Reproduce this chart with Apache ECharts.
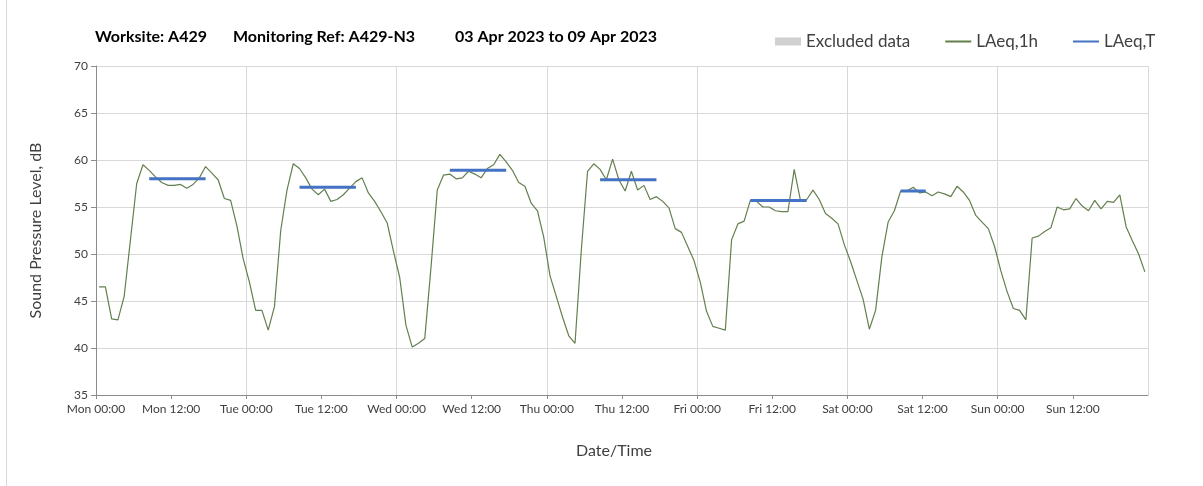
<!DOCTYPE html>
<html>
<head>
<meta charset="utf-8">
<title>A429-N3 noise monitoring</title>
<script src="https://cdn.jsdelivr.net/npm/echarts@6/dist/echarts.min.js"></script>
<style>
  html, body { margin: 0; padding: 0; background: #fff; }
  #chart { width: 1203px; height: 486px; }
</style>
</head>
<body>
<div id="chart"></div>
<script>
// LAeq,1h in dB, one value per hour, 00:00 .. 23:00
const mon = [46.5, 46.5, 43.1, 43.0, 45.5, 51.5, 57.5, 59.5, 58.9, 58.2, 57.6, 57.3,
             57.3, 57.4, 57.0, 57.4, 58.1, 59.3, 58.6, 57.9, 55.9, 55.7, 53.0, 49.5];
const tue = [47.0, 44.0, 44.0, 41.9, 44.4, 52.5, 56.8, 59.6, 59.1, 58.1, 56.9, 56.3,
             56.9, 55.6, 55.8, 56.3, 57.0, 57.7, 58.1, 56.5, 55.6, 54.5, 53.3, 50.3];
const wed = [47.5, 42.4, 40.1, 40.5, 41.0, 48.6, 56.8, 58.4, 58.5, 58.0, 58.1, 58.8,
             58.5, 58.1, 59.1, 59.5, 60.6, 59.8, 58.9, 57.6, 57.2, 55.4, 54.6, 51.8];
const thu = [47.7, 45.5, 43.3, 41.3, 40.5, 50.4, 58.8, 59.6, 59.0, 57.9, 60.1, 57.9,
             56.7, 58.8, 56.8, 57.3, 55.8, 56.1, 55.6, 54.9, 52.7, 52.3, 50.8, 49.3];
const fri = [47.0, 43.9, 42.3, 42.1, 41.9, 51.5, 53.2, 53.5, 55.7, 55.6, 55.0, 55.0,
             54.6, 54.5, 54.5, 59.0, 55.7, 55.8, 56.8, 55.8, 54.3, 53.8, 53.2, 51.0];
const sat = [49.2, 47.2, 45.2, 42.0, 44.0, 49.7, 53.4, 54.6, 56.7, 56.7, 57.1, 56.5,
             56.6, 56.2, 56.6, 56.4, 56.1, 57.2, 56.6, 55.7, 54.1, 53.4, 52.7, 50.8];
const sun = [48.2, 46.0, 44.2, 44.0, 43.0, 51.7, 51.9, 52.4, 52.8, 55.0, 54.7, 54.8,
             55.9, 55.1, 54.6, 55.7, 54.8, 55.6, 55.5, 56.3, 52.9, 51.4, 50.0, 48.1];

// LAeq,T for each assessed period (day index, start hour, end hour)
const ltDay   = [0, 1, 2, 3, 4, 5];
const ltStart = [8, 8, 8, 8, 8, 8];
const ltEnd   = [18, 18, 18, 18, 18, 13];
const ltValue = [58.0, 57.1, 58.9, 57.9, 55.7, 56.7];

const dayNames = ['Mon', 'Tue', 'Wed', 'Thu', 'Fri', 'Sat', 'Sun', 'Mon'];
const yMin = 35, yMax = 70, yStep = 5;

const font = 'Lato, "Open Sans", sans-serif';

// hourly values plotted at the middle of their hour
const hourly = [mon, tue, wed, thu, fri, sat, sun].flat().map((v, i) => [i + 0.5, v]);

const periods = [];
ltDay.forEach((d, i) => {
    periods.push([d * 24 + ltStart[i] + 0.5, ltValue[i]]);
    periods.push([d * 24 + ltEnd[i] - 0.5, ltValue[i]]);
    periods.push([d * 24 + ltEnd[i], '-']);
});

const chart = echarts.init(document.getElementById('chart'));

const titleStyle = { fontFamily: font, fontSize: 16, fontWeight: 'bold', color: '#000' };

chart.setOption({
    animation: false,
    textStyle: { fontFamily: font },
    title: [
        { text: 'Worksite: A429', left: 95, top: 29, padding: 0, textStyle: titleStyle },
        { text: 'Monitoring Ref: A429-N3', left: 233, top: 29, padding: 0, textStyle: titleStyle },
        { text: '03 Apr 2023 to 09 Apr 2023', left: 455, top: 29, padding: 0, textStyle: titleStyle }
    ],
    legend: {
        left: 775,
        top: 33,
        padding: 0,
        itemWidth: 26,
        itemHeight: 8,
        itemGap: 34,
        textStyle: { fontFamily: font, fontSize: 17, color: '#404040' },
        data: [
            { name: 'Excluded data', icon: 'rect' },
            { name: 'LAeq,1h', itemStyle: { opacity: 0 } },
            { name: 'LAeq,T', itemStyle: { opacity: 0 } }
        ]
    },
    grid: { left: 96, right: 55, top: 66, bottom: 91 },
    graphic: [
        { type: 'line', shape: { x1: 6.5, y1: 0, x2: 6.5, y2: 486 },
          style: { stroke: '#d9d9d9', lineWidth: 1 } }
    ],
    xAxis: [
        {
            type: 'value',
            min: 0,
            max: 168,
            interval: 12,
            name: 'Date/Time',
            nameLocation: 'middle',
            nameGap: 48,
            nameTextStyle: { fontFamily: font, fontSize: 16, color: '#404040', padding: [0, 16, 0, 0] },
            axisLine: { show: true, lineStyle: { color: '#8c8c8c' } },
            axisTick: { show: true, length: 4, lineStyle: { color: '#8c8c8c' } },
            axisLabel: {
                fontFamily: font, fontSize: 12, color: '#404040', margin: 8,
                showMaxLabel: false,
                formatter: v => dayNames[Math.floor(v / 24)] + (v % 24 === 0 ? ' 00:00' : ' 12:00')
            },
            splitLine: { show: false }
        },
        {
            type: 'value',
            min: 0,
            max: 168,
            interval: 24,
            position: 'bottom',
            axisLine: { show: false },
            axisTick: { show: false },
            axisLabel: { show: false },
            splitLine: { show: true, lineStyle: { color: '#d9d9d9' } }
        }
    ],
    yAxis: {
        type: 'value',
        min: yMin,
        max: yMax,
        interval: yStep,
        name: 'Sound Pressure Level, dB',
        nameLocation: 'middle',
        nameGap: 52,
        nameTextStyle: { fontFamily: font, fontSize: 16, color: '#404040' },
        axisLine: { show: true, lineStyle: { color: '#8c8c8c' } },
        axisTick: { show: true, length: 5, lineStyle: { color: '#8c8c8c' } },
        axisLabel: { fontFamily: font, fontSize: 12, color: '#404040', margin: 8 },
        splitLine: { show: true, lineStyle: { color: '#d9d9d9' } }
    },
    series: [
        {
            name: 'Excluded data',
            type: 'bar',
            itemStyle: { color: '#d0d0d0' },
            data: []
        },
        {
            name: 'LAeq,1h',
            type: 'line',
            symbol: 'none',
            lineStyle: { color: '#647f4e', width: 1.2 },
            itemStyle: { color: '#647f4e' },
            data: hourly
        },
        {
            name: 'LAeq,T',
            type: 'line',
            symbol: 'none',
            connectNulls: false,
            lineStyle: { color: '#4472c4', width: 3 },
            itemStyle: { color: '#4472c4' },
            data: periods
        }
    ]
});
</script>
</body>
</html>
